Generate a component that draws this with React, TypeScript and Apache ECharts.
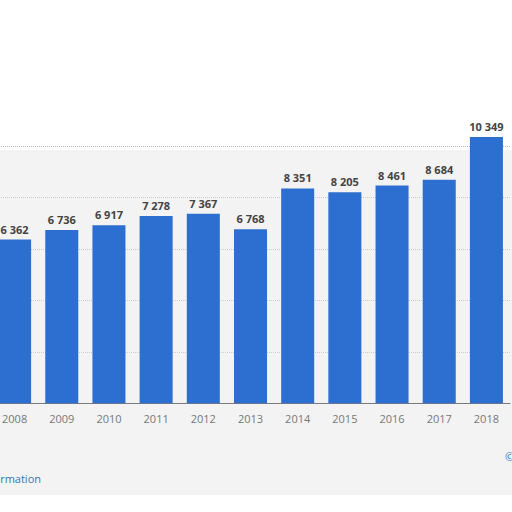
import * as echarts from 'echarts'
import { useEffect, useRef } from 'react'

const years = ['2008', '2009', '2010', '2011', '2012', '2013', '2014', '2015', '2016', '2017', '2018']
const values = [6362, 6736, 6917, 7278, 7367, 6768, 8351, 8205, 8461, 8684, 10349]
const yTicks = { min: 0, max: 12000, interval: 2000 }

const fmt = (v: number) => String(v).replace(/\B(?=(\d{3})+(?!\d))/g, ' ')

export default function App() {
  const chartRef = useRef<HTMLDivElement>(null)

  useEffect(() => {
    if (!chartRef.current) return
    const chart = echarts.init(chartRef.current, null, { renderer: 'svg' })

    const option: any = {
      animation: false,
      backgroundColor: '#ffffff',
      textStyle: { fontFamily: 'Open Sans, DejaVu Sans, sans-serif' },
      grid: { left: 1, width: 519, top: 94.5, height: 308.8 },
      graphic: [
        {
          type: 'rect',
          z: -10,
          shape: { x: 0, y: 150, width: 540, height: 345 },
          style: { fill: '#f3f3f3' },
        },
        {
          type: 'text',
          x: 51,
          y: 478,
          style: {
            text: 'Additional Information',
            align: 'right',
            verticalAlign: 'middle',
            fill: '#2b79b3',
            font: '11px Open Sans, sans-serif',
          },
        },
        {
          type: 'text',
          x: 515,
          y: 456,
          style: {
            text: '© Statista 2019',
            align: 'left',
            verticalAlign: 'middle',
            fill: '#2b79b3',
            font: '11px Open Sans, sans-serif',
          },
        },
      ],
      xAxis: {
        type: 'category',
        data: years,
        axisLine: { lineStyle: { color: '#7a7a7a', width: 1 } },
        axisTick: { show: false },
        axisLabel: { color: '#777', fontSize: 11, margin: 10 },
      },
      yAxis: {
        type: 'value',
        ...yTicks,
        axisLabel: { show: false },
        axisLine: { show: false },
        axisTick: { show: false },
        splitLine: {
          lineStyle: {
            type: 'dotted',
            color: ['#cccccc', '#cccccc', '#cccccc', '#cccccc', '#cccccc', '#bbbbbb', 'rgba(0,0,0,0)'],
          },
        },
      },
      series: [
        {
          type: 'bar',
          data: values,
          barCategoryGap: '30%',
          itemStyle: { color: '#2d6fd0' },
          label: {
            show: true,
            position: 'top',
            distance: 5,
            color: '#444',
            fontSize: 11,
            fontWeight: 'bold',
            formatter: (p: any) => fmt(p.value),
          },
        },
      ],
    }

    chart.setOption(option)
    return () => {
      chart.dispose()
    }
  }, [])

  return (
    <div
      ref={chartRef}
      style={{ position: 'absolute', left: -10, top: 0, width: 532, height: 512 }}
    />
  )
}
